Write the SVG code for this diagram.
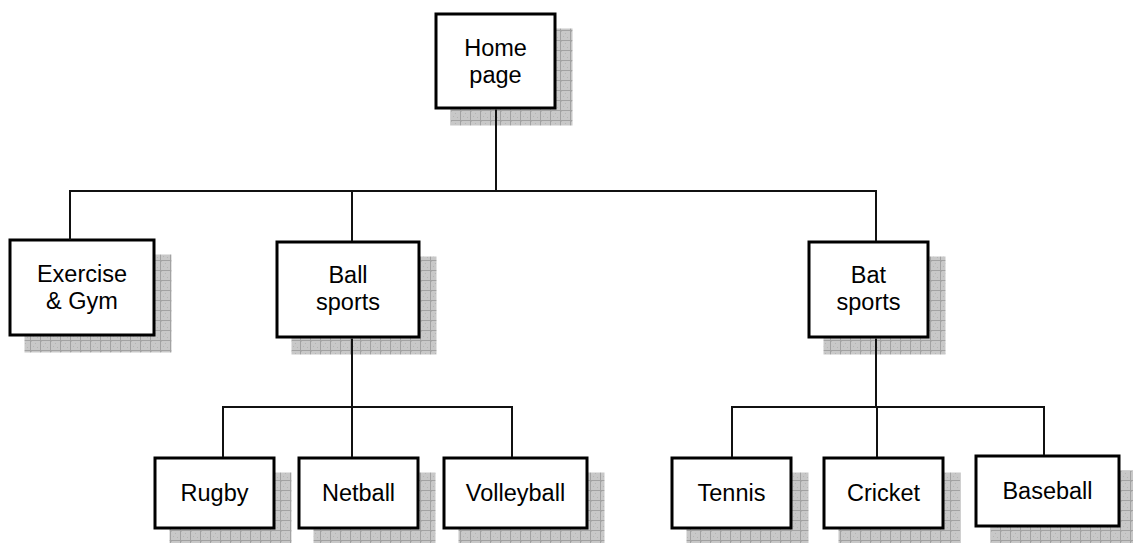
<svg xmlns="http://www.w3.org/2000/svg" width="1133" height="543" viewBox="0 0 1133 543">
<style>
.box{fill:#fff;stroke:#000;stroke-width:3}
.sh{fill:url(#grid);stroke:none}
.lbl{font-family:"Liberation Sans",Arial,sans-serif;font-size:23.5px;fill:#000;text-anchor:middle}
.con{fill:none;stroke:#111;stroke-width:2}
</style>
<defs>
<pattern id="grid" patternUnits="userSpaceOnUse" width="10" height="10">
<rect width="10" height="10" fill="#c8c8c8"/>
<rect x="1" y="1" width="1" height="1" fill="#b4b4b4"/>
<rect x="5" y="3" width="1" height="1" fill="#b4b4b4"/>
<rect x="3" y="6" width="1" height="1" fill="#b4b4b4"/>
<rect x="7" y="7" width="1" height="1" fill="#b4b4b4"/>
<rect x="0" y="0" width="10" height="1" fill="#a2a2a2"/>
<rect x="0" y="0" width="1" height="10" fill="#a2a2a2"/>
</pattern>
</defs>
<g id="node-home">
<rect class="sh" x="450.5" y="28.5" width="122" height="97"/>
<rect class="box" x="436" y="14" width="119" height="94"/>
<text class="lbl" x="495.5" y="56">Home</text>
<text class="lbl" x="495.5" y="83">page</text>
</g>
<g id="node-exercise">
<rect class="sh" x="24.5" y="254.5" width="147" height="98"/>
<rect class="box" x="10" y="240" width="144" height="95"/>
<text class="lbl" x="82" y="282">Exercise</text>
<text class="lbl" x="82" y="309">&amp; Gym</text>
</g>
<g id="node-ball">
<rect class="sh" x="291.5" y="256.5" width="145" height="98"/>
<rect class="box" x="277" y="242" width="142" height="95"/>
<text class="lbl" x="348" y="283">Ball</text>
<text class="lbl" x="348" y="310">sports</text>
</g>
<g id="node-bat">
<rect class="sh" x="823.5" y="256.5" width="122" height="98"/>
<rect class="box" x="809" y="242" width="119" height="95"/>
<text class="lbl" x="868.5" y="283">Bat</text>
<text class="lbl" x="868.5" y="310">sports</text>
</g>
<g id="node-rugby">
<rect class="sh" x="169.5" y="472.5" width="122" height="73"/>
<rect class="box" x="155" y="458" width="119" height="70"/>
<text class="lbl" x="214.5" y="501">Rugby</text>
</g>
<g id="node-netball">
<rect class="sh" x="313.5" y="472.5" width="122" height="73"/>
<rect class="box" x="299" y="458" width="119" height="70"/>
<text class="lbl" x="358.5" y="501">Netball</text>
</g>
<g id="node-volleyball">
<rect class="sh" x="458.5" y="472.5" width="146" height="73"/>
<rect class="box" x="444" y="458" width="143" height="70"/>
<text class="lbl" x="515.5" y="501">Volleyball</text>
</g>
<g id="node-tennis">
<rect class="sh" x="686.5" y="472.5" width="122" height="73"/>
<rect class="box" x="672" y="458" width="119" height="70"/>
<text class="lbl" x="731.5" y="501">Tennis</text>
</g>
<g id="node-cricket">
<rect class="sh" x="838.5" y="472.5" width="122" height="73"/>
<rect class="box" x="824" y="458" width="119" height="70"/>
<text class="lbl" x="883.5" y="501">Cricket</text>
</g>
<g id="node-baseball">
<rect class="sh" x="990.5" y="470.5" width="146" height="73"/>
<rect class="box" x="976" y="456" width="143" height="70"/>
<text class="lbl" x="1047.5" y="499">Baseball</text>
</g>
<g id="connectors">
<path class="con" d="M496 109.5V191M70 240V191H876V241M352 191V241"/>
<path class="con" d="M352 338.5V407M223 457V407H512V457M352 407V457"/>
<path class="con" d="M876 338.5V407M732 457V407H1044V455M877 407V457"/>
</g>
</svg>
